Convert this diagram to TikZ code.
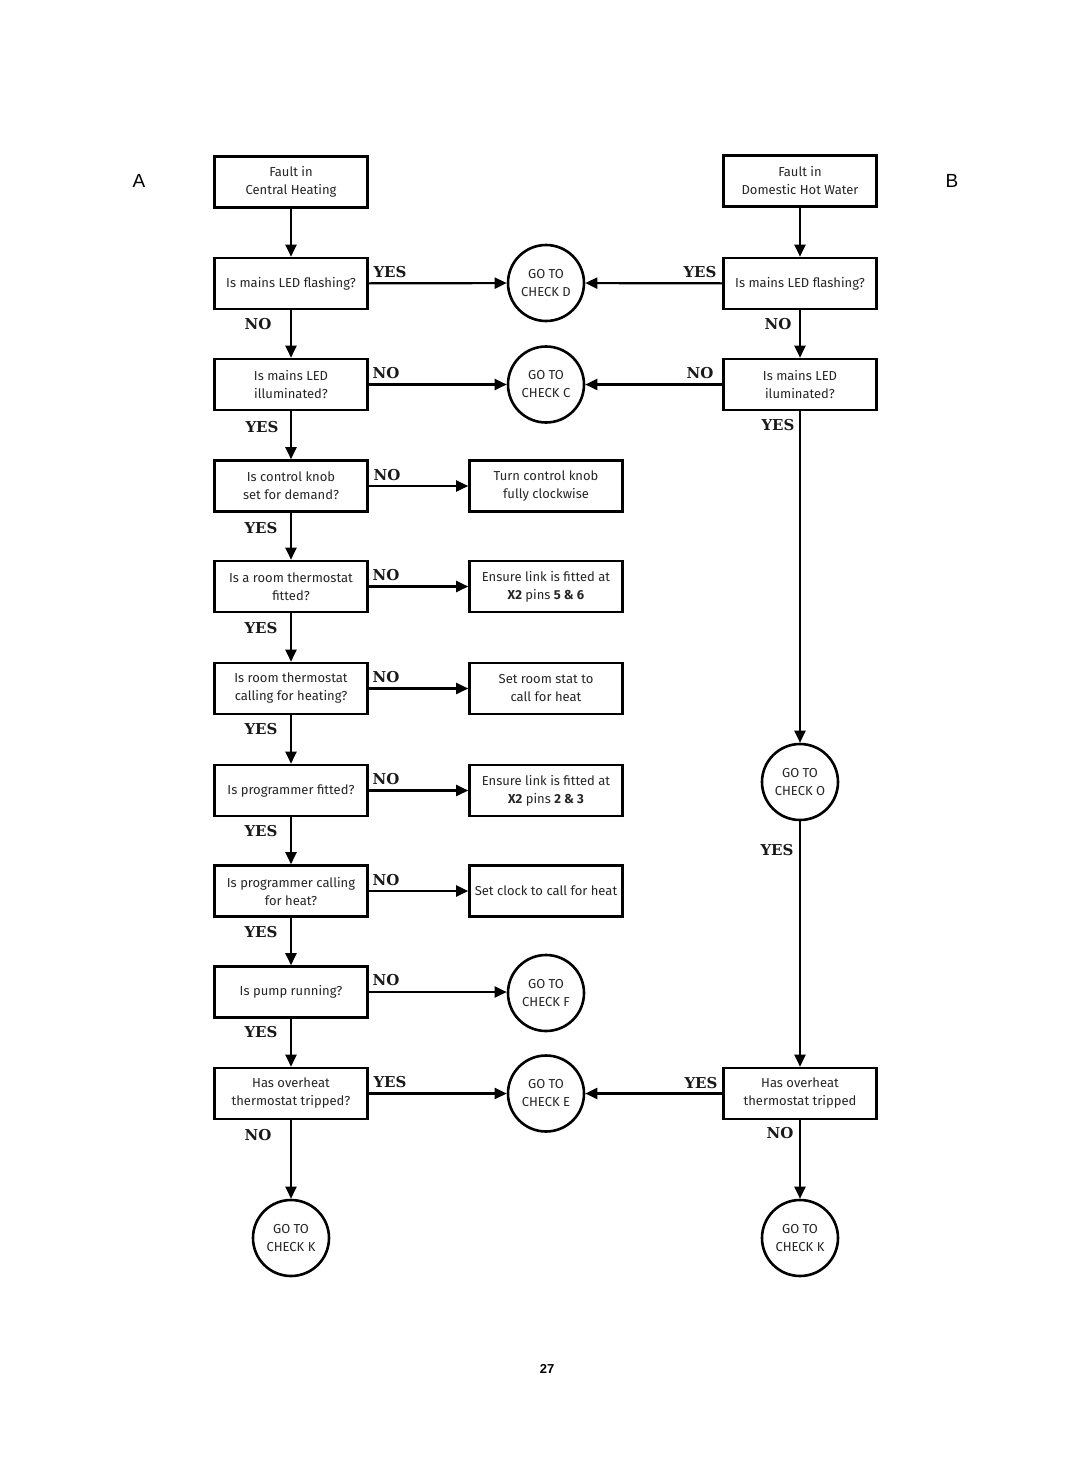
\documentclass[tikz,border=0pt]{standalone}
\usepackage{fontspec}
\setmainfont{Fira Sans}
\newfontfamily\lblfont{DejaVu Serif}
\newfontfamily\arialfont{Liberation Sans}
\usetikzlibrary{arrows.meta}
\tikzset{
  box/.style={draw, line width=2.6pt, minimum width=153pt, minimum height=51pt, align=center, inner sep=1pt, font=\fontsize{13}{18}\selectfont, text=black!85},
  goto/.style={draw, circle, line width=2.6pt, minimum size=76pt, inner sep=0pt, align=center, font=\fontsize{13}{18}\selectfont, text=black!85},
  conn/.style={line width=2.2pt, -{Triangle[length=12pt,width=11pt]}},
  lbl/.style={font=\lblfont\bfseries\fontsize{15}{16}\selectfont, text=black!90, inner sep=0pt},
}
\begin{document}
\begin{tikzpicture}[x=1pt,y=-1pt]
\useasboundingbox (0,0) rectangle (1080,1457);
\fill[white] (0,0) rectangle (1080,1457);
% side letters
\node[font=\arialfont\fontsize{19}{20}\selectfont] (la) at (139,181) {A};
\node[font=\arialfont\fontsize{19}{20}\selectfont] (lb) at (952,181) {B};
\node[font=\arialfont\bfseries\fontsize{13}{14}\selectfont] (pg) at (547,1369) {27};
% left column
\node[box] (a1) at (291,182) {Fault in\\Central Heating};
\node[box] (a2) at (291,283.5) {Is mains LED flashing?};
\node[box] (a3) at (291,384.5) {Is mains LED\\illuminated?};
\node[box] (a4) at (291,486) {Is control knob\\set for demand?};
\node[box] (a5) at (291,586.5) {Is a room thermostat\\fitted?};
\node[box] (a6) at (291,688.5) {Is room thermostat\\calling for heating?};
\node[box] (a7) at (291,790.5) {Is programmer fitted?};
\node[box] (a8) at (291,891) {Is programmer calling\\for heat?};
\node[box] (a9) at (291,992) {Is pump running?};
\node[box] (a10) at (291,1093.5) {Has overheat\\thermostat tripped?};
\node[goto] (ka) at (291,1238) {GO TO\\CHECK K};
% middle column
\node[goto] (cd) at (546,283) {GO TO\\CHECK D};
\node[goto] (cc) at (546,384.5) {GO TO\\CHECK C};
\node[box] (m4) at (546,486) {Turn control knob\\fully clockwise};
\node[box] (m5) at (546,586.5) {Ensure link is fitted at\\\textbf{X2} pins \textbf{5 \& 6}};
\node[box] (m6) at (546,688.5) {Set room stat to\\call for heat};
\node[box] (m7) at (546,790.5) {Ensure link is fitted at\\\textbf{X2} pins \textbf{2 \& 3}};
\node[box] (m8) at (546,891) {Set clock to call for heat};
\node[goto] (cf) at (546,993) {GO TO\\CHECK F};
\node[goto] (ce) at (546,1093.5) {GO TO\\CHECK E};
% right column
\node[box] (b1) at (800,181) {Fault in\\Domestic Hot Water};
\node[box] (b2) at (800,283.5) {Is mains LED flashing?};
\node[box] (b3) at (800,384.5) {Is mains LED\\iluminated?};
\node[goto] (co) at (800,782) {GO TO\\CHECK O};
\node[box] (b4) at (800,1093.5) {Has overheat\\thermostat tripped};
\node[goto] (kb) at (800,1238) {GO TO\\CHECK K};
% left vertical connectors
\draw[conn] (a1) -- (a2);
\draw[conn] (a2) -- (a3);
\draw[conn] (a3) -- (a4);
\draw[conn] (a4) -- (a5);
\draw[conn] (a5) -- (a6);
\draw[conn] (a6) -- (a7);
\draw[conn] (a7) -- (a8);
\draw[conn] (a8) -- (a9);
\draw[conn] (a9) -- (a10);
\draw[conn] (a10) -- (ka);
% horizontal connectors left
\draw[conn] (a2) -- (cd);
\draw[conn] (a3) -- (cc);
\draw[conn] (a4) -- (m4);
\draw[conn] (a5) -- (m5);
\draw[conn] (a6) -- (m6);
\draw[conn] (a7) -- (m7);
\draw[conn] (a8) -- (m8);
\draw[conn] (a9.east) -- (a9.east -| cf.west);
\draw[conn] (a10) -- (ce);
% right connectors
\draw[conn] (b1) -- (b2);
\draw[conn] (b2) -- (b3);
\draw[conn] (b3) -- (co);
\draw[conn] (co) -- (b4);
\draw[conn] (b4) -- (kb);
\draw[conn] (b2) -- (cd);
\draw[conn] (b3) -- (cc);
\draw[conn] (b4) -- (ce);
% labels
\node[lbl] (l1) at (390,272) {YES};
\node[lbl] (l2) at (258,324) {NO};
\node[lbl] (l3) at (386,373) {NO};
\node[lbl] (l4) at (262,427) {YES};
\node[lbl] (l5) at (387,475) {NO};
\node[lbl] (l6) at (261,528) {YES};
\node[lbl] (l7) at (386,575) {NO};
\node[lbl] (l8) at (261,628) {YES};
\node[lbl] (l9) at (386,677) {NO};
\node[lbl] (l10) at (261,729) {YES};
\node[lbl] (l11) at (386,779) {NO};
\node[lbl] (l12) at (261,831) {YES};
\node[lbl] (l13) at (386,880) {NO};
\node[lbl] (l14) at (261,932) {YES};
\node[lbl] (l15) at (386,980) {NO};
\node[lbl] (l16) at (261,1032) {YES};
\node[lbl] (l17) at (390,1082) {YES};
\node[lbl] (l18) at (258,1135) {NO};
\node[lbl] (r1) at (700,272) {YES};
\node[lbl] (r2) at (778,324) {NO};
\node[lbl] (r3) at (700,373) {NO};
\node[lbl] (r4) at (778,425) {YES};
\node[lbl] (r5) at (777,850) {YES};
\node[lbl] (r6) at (701,1083) {YES};
\node[lbl] (r7) at (780,1133) {NO};
\end{tikzpicture}
\end{document}
